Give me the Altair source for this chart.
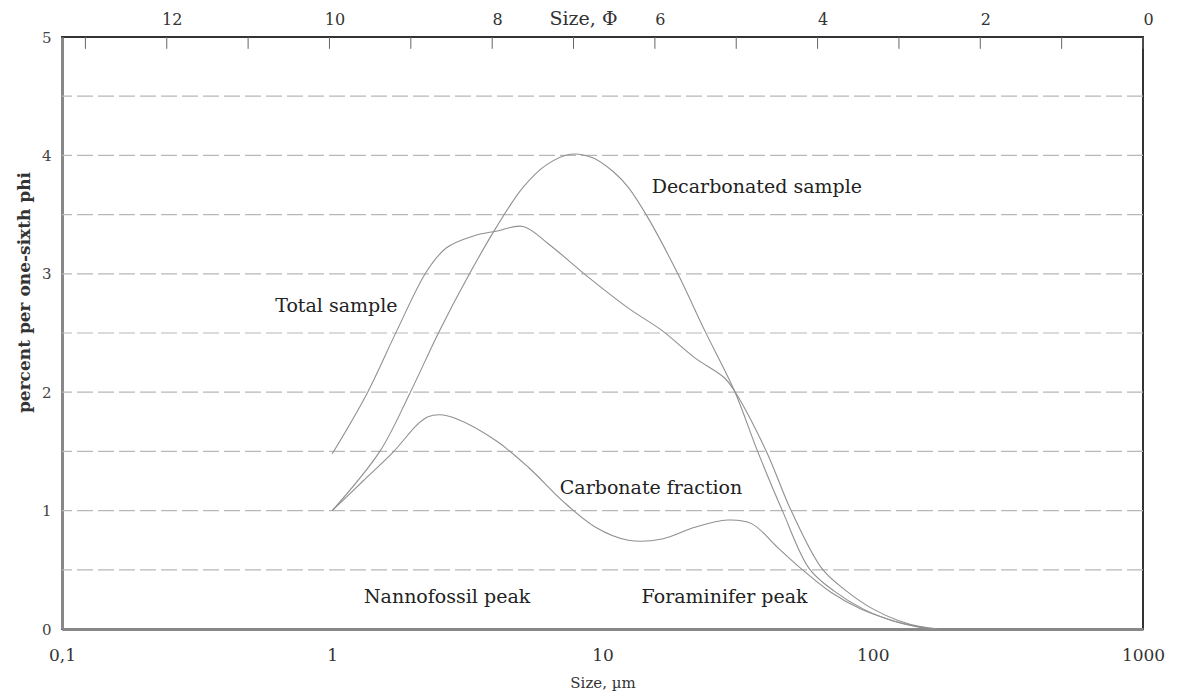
import altair as alt
import pandas as pd

# --- data ---
total_um = [1.0, 1.345, 1.734, 2.234, 2.647, 3.33, 4.04, 5.08, 6.33, 8.88, 12.46, 16.62,
            21.97, 28.3, 30.8, 40.4, 49.9, 64.9, 80.0, 100.0, 125.0, 150.0, 175.0]
total_pct = [1.48, 1.99, 2.52, 3.02, 3.22, 3.32, 3.36, 3.40, 3.25, 2.97, 2.71, 2.52,
             2.29, 2.12, 2.01, 1.50, 1.00, 0.51, 0.32, 0.17, 0.07, 0.02, 0.0]

decarb_um = [1.0, 1.5, 1.936, 2.495, 3.22, 4.04, 5.08, 6.2, 7.6, 9.2, 11.0, 12.46, 14.76,
             19.0, 23.9, 30.8, 37.5, 46.3, 58.2, 72.0, 92.0, 118.0, 145.0, 170.0]
decarb_pct = [1.0, 1.5, 1.99, 2.52, 3.0, 3.39, 3.73, 3.92, 4.01, 3.98, 3.86, 3.73, 3.47,
              3.0, 2.52, 2.01, 1.5, 1.0, 0.51, 0.32, 0.17, 0.07, 0.02, 0.0]

carb_um = [1.0, 1.3, 1.69, 2.05, 2.25, 2.5, 2.85, 4.04, 5.35, 7.13, 9.42, 12.46, 16.62,
           21.97, 29.05, 35.6, 44.4, 54.3, 70.0, 90.0, 115.0, 140.0, 165.0]
carb_pct = [1.0, 1.25, 1.5, 1.72, 1.79, 1.81, 1.78, 1.59, 1.36, 1.08, 0.86, 0.75, 0.76,
            0.86, 0.92, 0.89, 0.69, 0.51, 0.31, 0.17, 0.08, 0.03, 0.0]

labels = ["Decarbonated sample", "Total sample", "Carbonate fraction",
          "Nannofossil peak", "Foraminifer peak"]
label_um = [15.2, 0.615, 6.95, 1.31, 13.95]
label_pct = [3.73, 2.73, 1.19, 0.27, 0.27]

bottom_ticks_um = [0.1, 1, 10, 100, 1000]
top_tick_phi = list(range(0, 14))
top_label_phi = [0, 2, 4, 6, 8, 10, 12]
y_label_values = [0, 1, 2, 3, 4, 5]
grid_values = [0.5, 1, 1.5, 2, 2.5, 3, 3.5, 4, 4.5]

FONT = "DejaVu Serif"

rows = []
for name, xs, ys in [("Total sample", total_um, total_pct),
                     ("Decarbonated sample", decarb_um, decarb_pct),
                     ("Carbonate fraction", carb_um, carb_pct)]:
    for x, y in zip(xs, ys):
        rows.append({"series": name, "um": x, "pct": y})
df = pd.DataFrame(rows)
lab_df = pd.DataFrame({"label": labels, "lx": label_um, "ly": label_pct})
phi_df = pd.DataFrame({"phi": top_tick_phi})
grid_df = pd.DataFrame({"g": grid_values})

xscale = alt.Scale(type="log", domain=[0.1, 1000], nice=False)
yscale = alt.Scale(domain=[0, 5], nice=False, zero=True)

bottom_axis = alt.Axis(
    values=bottom_ticks_um,
    labelExpr="datum.value < 1 ? '0,1' : format(datum.value, 'd')",
    ticks=False, grid=False, domainColor="#888", domainWidth=3,
    labelFont=FONT, labelFontSize=17, labelColor="#333", labelPadding=18,
    labelFlush=False,
    title="Size, µm", titleFont=FONT, titleFontSize=15, titleFontWeight="normal",
    titleColor="#333", titlePadding=12,
)
y_axis = alt.Axis(
    values=y_label_values, format="d",
    ticks=False, grid=False,
    domainColor="#888", domainWidth=3,
    labelFont=FONT, labelFontSize=15, labelColor="#444", labelPadding=11,
    title="percent per one-sixth phi", titleFont=FONT, titleFontSize=17,
    titleFontWeight="bold", titleColor="#333", titlePadding=8, titleY=255,
)
top_axis = alt.Axis(
    orient="top",
    values=[1000 * 2 ** -p for p in top_label_phi],
    labelExpr="format(round(-log(datum.value/1000)/log(2)), 'd')",
    ticks=False, grid=False, domain=False, labelFlush=False, labelOffset=5,
    labelFont=FONT, labelFontSize=16, labelColor="#333", labelPadding=10,
    title="Size, Φ", titleFont=FONT, titleFontSize=19, titleFontWeight="normal",
    titleColor="#333", titleX=521, titleY=-9, titleBaseline="bottom", titleAlign="center",
)

grid = alt.Chart(grid_df).mark_rule(color="#b8b8b8", strokeWidth=1.2, strokeDash=[16, 5]).encode(
    y=alt.Y("g:Q", scale=yscale, axis=y_axis),
)

lines = alt.Chart(df).mark_line(interpolate="catmull-rom", color="#909090", strokeWidth=1.1).encode(
    x=alt.X("um:Q", scale=xscale, axis=bottom_axis),
    y=alt.Y("pct:Q", scale=yscale),
    detail="series:N",
    order="um:Q",
)

top_ticks = alt.Chart(phi_df).transform_calculate(
    um="1000*pow(2,-datum.phi)"
).mark_rule(color="#666", strokeWidth=1).encode(
    x=alt.X("um:Q", scale=xscale, axis=top_axis),
    y=alt.YDatum(5, scale=yscale),
    y2=alt.Y2Datum(4.9),
)

texts = alt.Chart(lab_df).mark_text(
    align="left", baseline="middle", font=FONT, fontSize=19, color="#222"
).encode(
    x=alt.X("lx:Q", scale=xscale, axis=None),
    y=alt.Y("ly:Q", scale=yscale),
    text="label:N",
)

chart = alt.layer(grid, lines, top_ticks, texts).resolve_axis(x="independent").properties(
    width=1081, height=592,
    autosize=alt.AutoSizeParams(type="none"),
    padding={"left": 54, "top": 29, "right": 30, "bottom": 62},
).configure_view(stroke="#333", strokeWidth=2)

chart.save("out.html", embed_options={"renderer": "svg", "actions": False})
